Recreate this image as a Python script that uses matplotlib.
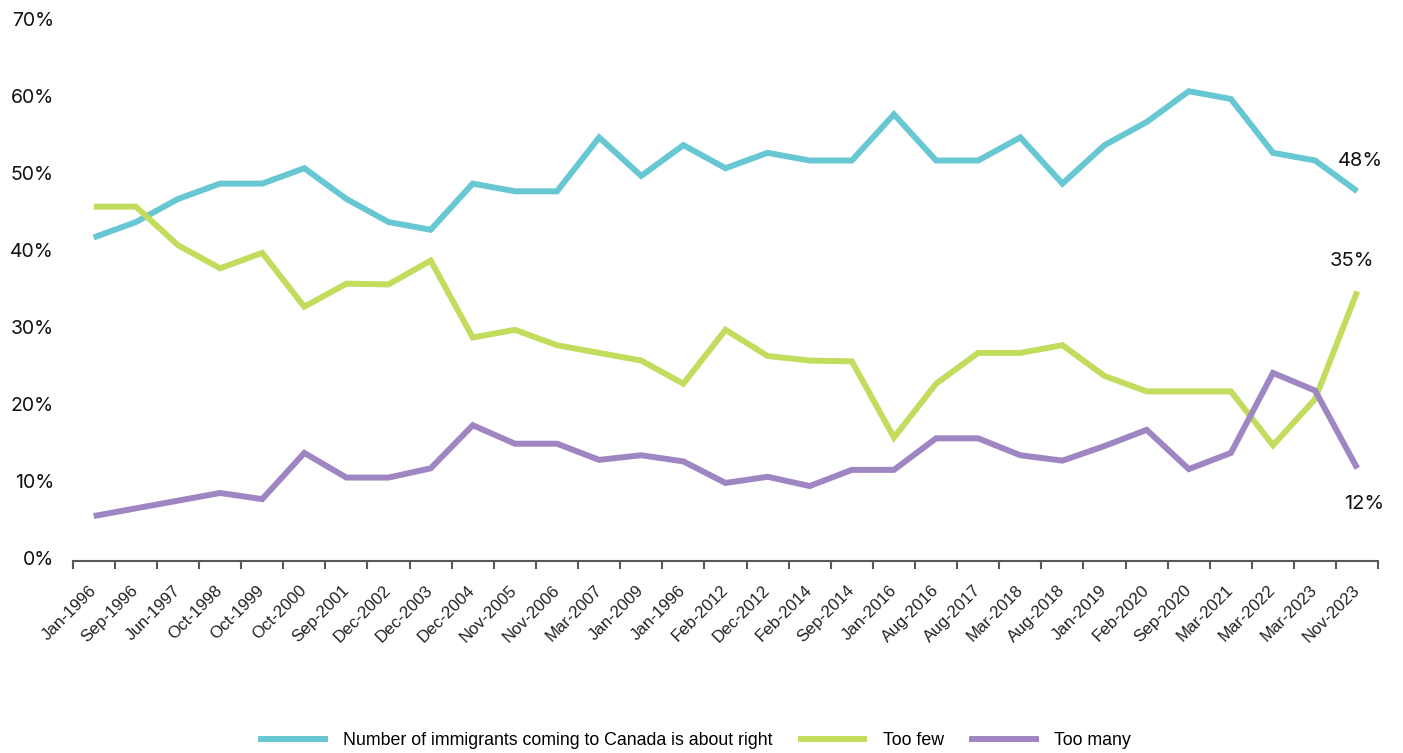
import matplotlib
matplotlib.use("Agg")
import matplotlib.pyplot as plt
import matplotlib.transforms as mtransforms

# survey waves (category axis, in the order they were fielded)
waves = ["Jan-1996", "Sep-1996", "Jun-1997", "Oct-1998", "Oct-1999", "Oct-2000",
         "Sep-2001", "Dec-2002", "Dec-2003", "Dec-2004", "Nov-2005", "Nov-2006",
         "Mar-2007", "Jan-2009", "Jan-1996", "Feb-2012", "Dec-2012", "Feb-2014",
         "Sep-2014", "Jan-2016", "Aug-2016", "Aug-2017", "Mar-2018", "Aug-2018",
         "Jan-2019", "Feb-2020", "Sep-2020", "Mar-2021", "Mar-2022", "Mar-2023",
         "Nov-2023"]

# share of respondents (%)
about_right = [42, 44, 47, 49, 49, 51, 47, 44, 43, 49, 48, 48, 55, 50, 54, 51,
               53, 52, 52, 58, 52, 52, 55, 49, 54, 57, 61, 60, 53, 52, 48]
too_few = [46, 46, 41, 38, 40, 33, 36, 35.9, 39, 29, 30, 28, 27, 26, 23, 30,
           26.6, 26, 25.9, 16, 23, 27, 27, 28, 24, 22, 22, 22, 15, 21, 35]
too_many = [5.8, 6.8, 7.8, 8.8, 8, 14, 10.8, 10.8, 12, 17.6, 15.2, 15.2, 13.1,
            13.7, 12.9, 10.1, 10.9, 9.7, 11.8, 11.8, 15.9, 15.9, 13.7, 13, 14.9,
            17, 11.9, 14, 24.4, 22.1, 12]

series_names = ["Number of immigrants coming to Canada is about right",
                "Too few", "Too many"]
colors = ["#67C7D3", "#C2DD5E", "#9F86C2"]

NUM_FONT = "Inter"
TXT_FONT = "Liberation Sans"

fig = plt.figure(figsize=(14.03, 7.53), dpi=100)
ax = fig.add_axes([0.0518, 0.2554, 0.9306, 0.7154])

x = list(range(len(waves)))
for vals, name, c in zip([about_right, too_few, too_many], series_names, colors):
    ax.plot(x, vals, color=c, lw=4.3, label=name, solid_joinstyle="miter",
            solid_capstyle="butt")

# end-of-line value labels
last = len(waves) - 1
end_offsets = [(2, 22), (-4, 22), (5, -26)]
for vals, off in zip([about_right, too_few, too_many], end_offsets):
    ax.annotate(f"{vals[-1]:.0f}%", (last, vals[-1]), xytext=off,
                textcoords="offset points", ha="center", va="center",
                fontsize=14.5, family=NUM_FONT, color="#111111")

ax.set_xlim(-0.5, last + 0.5)
ax.set_ylim(0, 70)

# y axis: percent labels, no line
ax.set_yticks(range(0, 71, 10))
ax.set_yticklabels([f"{v}%" for v in range(0, 71, 10)], family=NUM_FONT,
                   fontsize=14, color="#111111")
ax.tick_params(axis="y", length=0, pad=13.5)
shift = mtransforms.ScaledTranslation(0, 2 / 72, fig.dpi_scale_trans)
for lab in ax.get_yticklabels():
    lab.set_transform(lab.get_transform() + shift)

# x axis: labels at categories, tick marks between them
ax.set_xticks(x)
ax.set_xticklabels(waves, rotation=45, ha="right", rotation_mode="anchor",
                   va="center", fontsize=12.2, family=TXT_FONT, color="#222222")
ax.tick_params(axis="x", which="major", length=0, pad=19.5)
ax.set_xticks([i - 0.5 for i in range(len(waves) + 1)], minor=True)
ax.tick_params(axis="x", which="minor", length=5.5, width=1.5,
               color="#595959", direction="out")

for side in ["top", "right", "left"]:
    ax.spines[side].set_visible(False)
ax.spines["bottom"].set_color("#595959")
ax.spines["bottom"].set_linewidth(1.5)

fig.legend(loc="center", bbox_to_anchor=(0.495, 0.016), ncol=3, frameon=False,
           prop={"family": TXT_FONT, "size": 12.8}, handlelength=3.9,
           handletextpad=0.85, columnspacing=1.45, borderpad=0,
           borderaxespad=0)

fig.savefig("out.png", dpi=100)
